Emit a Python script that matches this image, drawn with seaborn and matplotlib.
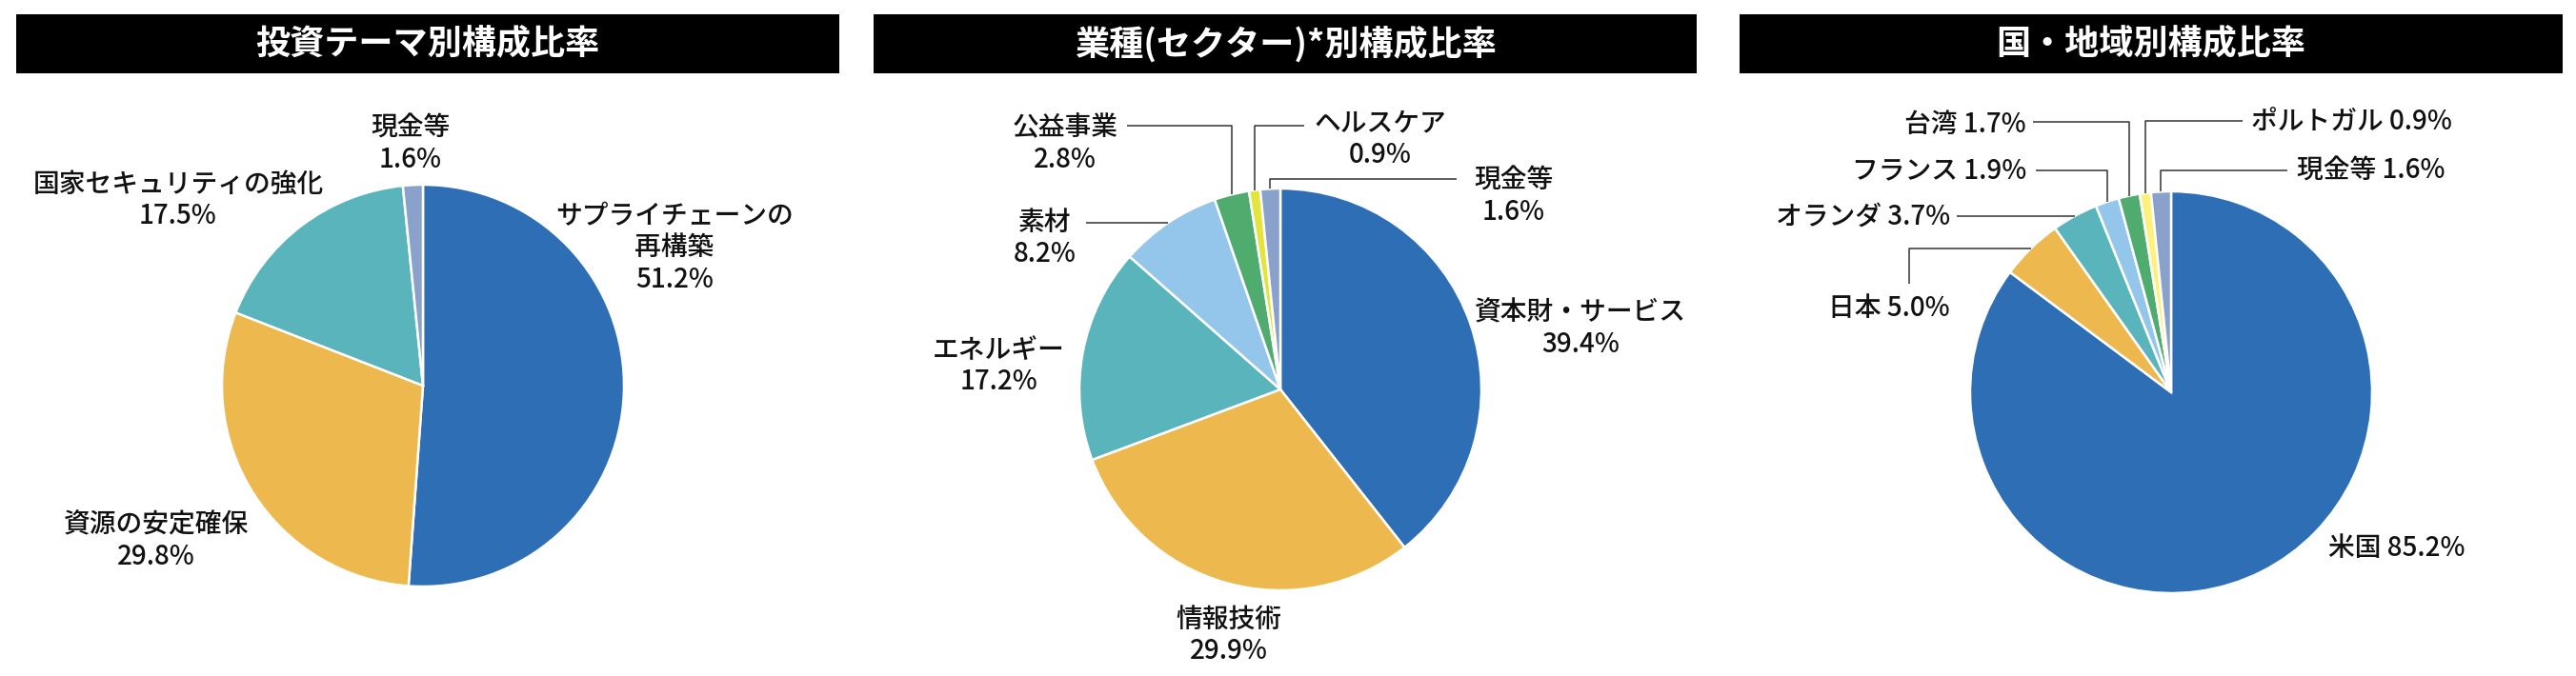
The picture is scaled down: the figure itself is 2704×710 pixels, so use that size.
import numpy as np
import matplotlib
matplotlib.use("Agg")
import matplotlib.pyplot as plt
from matplotlib.patches import Rectangle
import seaborn as sns

# ------------------------------------------
# data
# ------------------------------------------
theme_names = ["サプライチェーンの\n再構築", "資源の安定確保", "国家セキュリティの強化", "現金等"]
theme_values = [51.2, 29.8, 17.5, 1.6]

sector_names = ["資本財・サービス", "情報技術", "エネルギー", "素材", "公益事業", "ヘルスケア", "現金等"]
sector_values = [39.4, 29.9, 17.2, 8.2, 2.8, 0.9, 1.6]

country_names = ["米国", "日本", "オランダ", "フランス", "台湾", "ポルトガル", "現金等"]
country_values = [85.2, 5.0, 3.7, 1.9, 1.7, 0.9, 1.6]

titles = ["投資テーマ別構成比率", "業種(セクター)*別構成比率", "国・地域別構成比率"]

# ------------------------------------------
# style / layout
# ------------------------------------------
sns.set_theme(style="white")
plt.rcParams["font.family"] = ["Noto Sans CJK JP", "DejaVu Sans"]

BLUE, GOLD, TEAL, SKY = "#2D6EB4", "#EDB94E", "#5AB4BC", "#93C6EA"
GREEN, LIME, PALE, SLATE = "#50AB6E", "#E3E53C", "#FFF27C", "#8AA2CB"

theme_colors = sns.color_palette([BLUE, GOLD, TEAL, SLATE])
sector_colors = sns.color_palette([BLUE, GOLD, TEAL, SKY, GREEN, LIME, SLATE])
country_colors = sns.color_palette([BLUE, GOLD, TEAL, SKY, GREEN, PALE, SLATE])

W, H = 2704, 710
R = 211            # pie radius in pixels
LABEL_FS = 20
TITLE_FS = 26
LINE_COLOR = "#333333"

# x0, width, pie centre (px), title bar extent (px)
panels = [
    dict(x0=0, w=900, cx=444, cy=405, bar=(17, 881)),
    dict(x0=900, w=900, cx=1344, cy=409, bar=(917, 1781)),
    dict(x0=1800, w=904, cx=2279, cy=412, bar=(1826, 2690)),
]

# label anchor (px) and alignment per wedge
theme_labels = [(708, 260, "center"), (164, 568, "center"), (187, 210, "center"), (431, 151, "center")]
sector_labels = [(1659, 345, "center"), (1290, 667, "center"), (1048, 384, "center"),
                 (1097, 250, "center"), (1118, 151, "center"), (1449, 146, "center"),
                 (1589, 206, "center")]
country_labels = [(2444, 575, "left"), (2047, 323, "right"), (2047, 227, "right"),
                  (2127, 179, "right"), (2127, 130, "right"), (2363, 127, "left"),
                  (2411, 179, "left")]

# leader lines: wedge index -> (kind, start px)
sector_leaders = {3: ("flat", (1140, None)), 4: ("elbow", (1183, 132)),
                  5: ("elbow", (1369, 132)), 6: ("elbow", (1529, 188))}
country_leaders = {1: ("hook", (2004, 298)), 2: ("flat", (2054, None)),
                   3: ("elbow", (2137, 179)), 4: ("elbow", (2134, 128)),
                   5: ("elbow", (2354, 127)), 6: ("elbow", (2401, 179))}


def draw_panel(fig, panel, names, values, colors, title, labels, leaders, sep):
    x0, w, cx, cy = panel["x0"], panel["w"], panel["cx"], panel["cy"]
    ax = fig.add_axes([x0 / W, 0, w / W, 1])

    def px(x, y):
        return (x - cx) / R, (cy - y) / R

    wedges, _ = ax.pie(values, colors=colors, startangle=90, counterclock=False,
                       radius=1, wedgeprops=dict(edgecolor="white", linewidth=1.8))
    ax.set_xlim((x0 - cx) / R, (x0 + w - cx) / R)
    ax.set_ylim((cy - H) / R, cy / R)
    ax.set_aspect("auto")
    ax.axis("off")

    # title bar
    bx0, bx1 = panel["bar"]
    lx, ly = px(bx0, 77)
    ax.add_patch(Rectangle((lx, ly), (bx1 - bx0) / R, 62 / R, facecolor="black",
                           edgecolor="none", clip_on=False))
    tx, ty = px((bx0 + bx1) / 2, 46)
    ax.text(tx, ty, title, color="white", fontsize=TITLE_FS, fontweight="bold",
            ha="center", va="center")

    for name, val, (lxp, lyp, ha) in zip(names, values, labels):
        x, y = px(lxp, lyp)
        ax.text(x, y, f"{name}{sep}{val:.1f}%", fontsize=LABEL_FS, ha=ha, va="center",
                multialignment="center", linespacing=1.2, color="#111111",
                fontweight="medium")

    for idx, (kind, (sx, sy)) in leaders.items():
        wdg = wedges[idx]
        mid = np.deg2rad((wdg.theta1 + wdg.theta2) / 2)
        ex, ey = np.cos(mid), np.sin(mid)
        if kind == "elbow":
            x, y = px(sx, sy)
            xs, ys = [x, ex, ex], [y, y, ey]
        elif kind == "flat":
            x, _ = px(sx, 0)
            xs, ys = [x, ex], [ey, ey]
        else:  # hook: up from label, then across to wedge
            x, y = px(sx, sy)
            xs, ys = [x, x, ex], [y, ey, ey]
        ax.plot(xs, ys, color=LINE_COLOR, lw=1.1, solid_capstyle="butt")
    return ax


fig = plt.figure(figsize=(W / 100, H / 100), dpi=100)
fig.patch.set_facecolor("white")

draw_panel(fig, panels[0], theme_names, theme_values, theme_colors, titles[0],
           theme_labels, {}, "\n")
draw_panel(fig, panels[1], sector_names, sector_values, sector_colors, titles[1],
           sector_labels, sector_leaders, "\n")
draw_panel(fig, panels[2], country_names, country_values, country_colors, titles[2],
           country_labels, country_leaders, " ")

fig.savefig("out.png", dpi=100)
